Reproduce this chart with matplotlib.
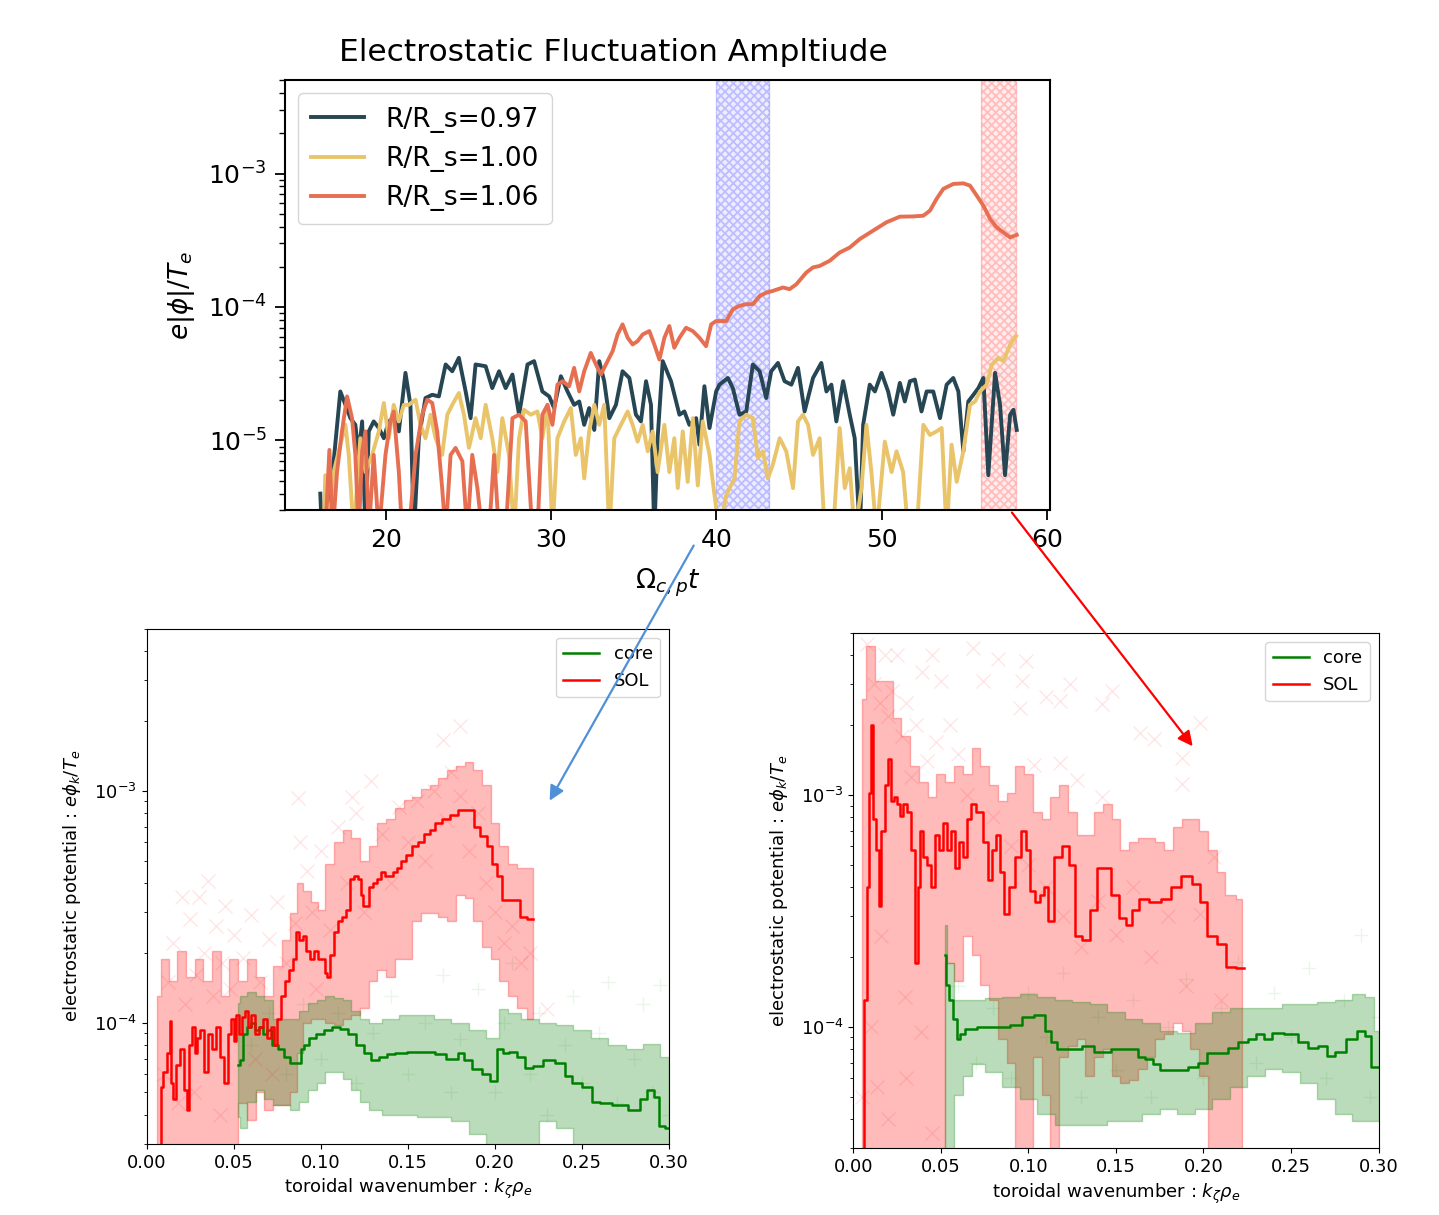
import numpy as np
import matplotlib.pyplot as plt
from matplotlib.patches import FancyArrowPatch

# ---- top panel: fluctuation amplitude vs time (amplitude in units of 1e-5)
t_097 = [16.04, 16.14, 16.75, 17.25, 17.56, 17.86, 18.16, 18.36, 18.57, 18.77, 18.97, 19.27, 19.58,
         19.88, 20.18, 20.48, 20.79, 21.19, 21.49, 21.70, 22.0, 22.40, 22.81, 23.21, 23.62, 24.02,
         24.42, 24.83, 25.13, 25.43, 26.04, 26.44, 26.85, 27.25, 27.66, 28.06, 28.57, 28.97, 29.47,
         29.88, 30.18, 30.59, 30.99, 31.39, 31.70, 32.0, 32.30, 32.61, 32.91, 33.21, 33.52, 33.92,
         34.32, 34.73, 35.13, 35.43, 35.74, 36.04, 36.24, 36.44, 36.75, 37.25, 37.76, 38.06, 38.36,
         38.77, 38.97, 39.27, 39.58, 39.98, 40.18, 40.69, 40.99, 41.39, 41.80, 42.20, 42.61, 43.01,
         43.31, 43.72, 44.12, 44.53, 44.93, 45.33, 45.84, 46.34, 46.65, 46.95, 47.25, 47.66, 48.06,
         48.36, 48.67, 48.87, 49.27, 49.58, 49.98, 50.38, 50.69, 51.09, 51.39, 51.70, 52.0, 52.40,
         52.71, 53.11, 53.52, 53.92, 54.32, 54.63, 54.93, 55.23, 55.54, 55.84, 56.14, 56.44, 56.85,
         57.15, 57.45, 57.76, 57.96, 58.16]
amp_097 = [0.40, 0.2, 0.52, 2.33, 1.85, 1.47, 1.31, 0.78, 1.39, 0.2, 1.17, 1.39, 1.24,
           1.04, 1.39, 1.47, 1.17, 3.21, 1.85, 0.2, 1.04, 2.08, 2.20, 2.14, 3.71, 3.30,
           4.16, 2.33, 1.47, 3.71, 3.60, 2.47, 3.30, 2.47, 3.12, 1.56, 3.71, 3.93, 2.33,
           2.14, 1.75, 3.03, 2.33, 1.85, 1.96, 1.31, 1.75, 1.20, 3.93, 2.78, 1.47, 1.85,
           3.30, 2.94, 1.56, 1.39, 2.78, 1.85, 0.2, 1.04, 3.93, 2.78, 1.56, 1.65, 1.31,
           1.47, 0.93, 2.55, 1.24, 2.33, 2.62, 2.94, 2.47, 1.56, 1.65, 3.71, 3.30, 2.08,
           3.30, 3.81, 2.78, 2.62, 3.50, 1.65, 2.94, 3.81, 2.33, 2.62, 1.39, 2.78, 1.56,
           1.04, 0.2, 1.31, 2.62, 2.33, 3.21, 2.33, 1.56, 2.70, 1.96, 2.78, 2.86, 1.65,
           2.33, 2.33, 1.47, 2.62, 2.94, 2.33, 0.83, 1.96, 2.20, 2.47, 2.94, 0.55, 3.21,
           1.85, 0.55, 1.56, 1.70, 1.20]

t_100 = [16.24, 16.34, 16.55, 16.85, 17.15, 17.56, 17.76, 18.06, 18.46, 18.77, 19.17, 19.58, 19.88,
         20.18, 20.48, 20.79, 21.09, 21.39, 21.80, 22.10, 22.40, 22.71, 23.01, 23.41, 23.72, 24.02,
         24.42, 24.73, 25.03, 25.43, 25.74, 26.04, 26.44, 26.75, 27.05, 27.45, 27.76, 28.06, 28.36,
         28.77, 29.17, 29.47, 29.78, 30.08, 30.38, 30.79, 31.19, 31.49, 31.80, 32.0, 32.30, 32.61,
         32.91, 33.21, 33.52, 33.82, 34.22, 34.63, 34.93, 35.23, 35.54, 35.84, 36.14, 36.44, 36.85,
         37.15, 37.45, 37.66, 37.96, 38.26, 38.57, 38.87, 39.17, 39.58, 39.88, 40.18, 40.59, 41.09,
         41.39, 41.80, 42.20, 42.51, 42.81, 43.11, 43.41, 43.82, 44.22, 44.63, 44.93, 45.23, 45.54,
         45.84, 46.24, 46.55, 47.05, 47.45, 47.76, 48.06, 48.36, 48.77, 49.07, 49.37, 49.68, 50.18,
         50.59, 50.89, 51.29, 51.60, 52.10, 52.51, 52.91, 53.31, 53.62, 53.92, 54.22, 54.53, 54.93,
         55.33, 55.64, 55.94, 56.34, 56.65, 57.05, 57.35, 57.76, 58.12]
amp_100 = [0.2, 0.55, 0.2, 0.58, 0.83, 1.31, 0.78, 0.2, 1.04, 0.58, 0.78, 1.17, 1.91,
           1.04, 1.85, 1.39, 1.85, 1.85, 2.02, 1.31, 1.04, 1.56, 1.04, 0.78, 1.56, 1.85,
           2.27, 1.56, 0.88, 1.47, 1.04, 1.85, 1.04, 0.58, 1.47, 0.78, 0.2, 1.04, 1.70,
           1.56, 1.65, 1.04, 1.85, 0.2, 1.04, 1.39, 1.75, 0.78, 1.04, 0.52, 1.17, 1.85,
           1.31, 1.85, 0.2, 1.04, 1.31, 1.65, 1.31, 0.98, 1.31, 0.83, 1.17, 0.58, 1.31,
           0.58, 1.04, 0.44, 1.17, 0.49, 1.47, 0.46, 1.39, 0.78, 0.39, 0.2, 0.39, 0.52,
           1.39, 1.56, 1.47, 0.74, 0.83, 0.52, 0.66, 1.04, 0.83, 0.44, 1.39, 1.56, 1.31,
           0.78, 1.04, 0.2, 0.2, 1.24, 0.44, 0.62, 0.2, 0.44, 1.31, 0.58, 0.2, 0.98,
           0.58, 0.83, 0.58, 0.2, 0.2, 1.31, 1.10, 1.17, 1.24, 0.2, 0.93, 0.49, 0.83,
           1.85, 1.96, 2.33, 2.62, 3.71, 4.16, 3.93, 5.24, 6.05]

t_106 = [16.34, 16.59, 16.79, 17.05, 17.35, 17.66, 17.96, 18.16, 18.36, 18.57, 18.77, 18.97, 19.27,
         19.58, 19.98, 20.28, 20.48, 20.79, 20.99, 21.39, 21.80, 22.20, 22.51, 22.81, 23.11, 23.41,
         23.62, 23.92, 24.22, 24.63, 24.93, 25.23, 25.54, 25.84, 26.24, 26.55, 26.85, 27.25, 27.66,
         28.06, 28.46, 28.87, 29.17, 29.47, 29.78, 30.08, 30.38, 30.69, 31.09, 31.39, 31.70, 32.0,
         32.40, 32.71, 33.01, 33.31, 33.72, 34.02, 34.32, 34.63, 34.93, 35.23, 35.54, 35.94, 36.24,
         36.55, 36.85, 37.15, 37.45, 37.76, 38.16, 38.57, 38.97, 39.37, 39.68, 39.98, 40.59, 40.99,
         41.39, 41.80, 42.20, 42.61, 43.01, 43.41, 44.02, 44.42, 44.83, 45.43, 45.84, 46.24, 46.85,
         47.45, 48.06, 48.67, 49.47, 50.28, 51.09, 51.90, 52.51, 52.91, 53.31, 53.72, 54.32, 54.93,
         55.33, 55.74, 56.14, 56.55, 56.95, 57.35, 57.76, 58.16]
amp_106 = [0.2, 0.85, 0.2, 0.58, 1.17, 2.14, 1.47, 0.78, 0.2, 0.83, 1.17, 0.2, 0.78,
           0.2, 0.78, 1.39, 1.65, 0.58, 0.2, 0.2, 0.78, 1.56, 2.02, 1.91, 1.17, 0.44,
           0.2, 0.78, 0.88, 0.70, 0.2, 0.78, 0.44, 0.2, 0.2, 0.78, 0.2, 0.2, 1.47,
           1.56, 1.39, 0.2, 0.2, 1.56, 1.85, 1.31, 2.62, 2.78, 2.55, 3.50, 2.33, 3.30,
           4.53, 3.71, 3.12, 3.71, 4.67, 6.23, 7.41, 5.88, 5.24, 5.55, 6.23, 6.60, 5.24,
           4.04, 5.88, 7.2, 4.95, 5.88, 6.99, 6.60, 5.88, 5.09, 7.41, 7.85, 7.85, 9.6,
           10.2, 10.5, 10.5, 12.1, 12.8, 13.2, 14.0, 13.6, 14.8, 18.1, 19.8, 20.3, 22.2,
           25.6, 27.9, 32.3, 37.3, 43.1, 47.5, 47.7, 48.3, 52.7, 64.5, 76.7, 83.5, 84.4,
           81.2, 68.3, 57.5, 45.6, 39.5, 36.2, 33.2, 34.7]

blue_window = (40.0, 43.2)
red_window = (56.0, 58.1)

# ---- bottom-left panel (values in units of 1e-4)
kl_sol = [0.0079, 0.0086, 0.0102, 0.0125, 0.0136, 0.0147, 0.0158, 0.0181, 0.0204, 0.0226, 0.0238,
          0.0249, 0.0272, 0.0283, 0.0294, 0.0317, 0.0340, 0.0362, 0.0385, 0.0408, 0.0430, 0.0453,
          0.0475, 0.0498, 0.0509, 0.0521, 0.0543, 0.0555, 0.0577, 0.0589, 0.0611, 0.0634, 0.0657,
          0.0679, 0.0702, 0.0724, 0.0743, 0.0758, 0.0781, 0.0804, 0.0826, 0.0849, 0.0860, 0.0883,
          0.0906, 0.0928, 0.0951, 0.0974, 0.0996, 0.1019, 0.1030, 0.1041, 0.1064, 0.1087, 0.1109,
          0.1132, 0.1155, 0.1177, 0.1200, 0.1223, 0.1234, 0.1245, 0.1268, 0.1290, 0.1313, 0.1336,
          0.1358, 0.1381, 0.1404, 0.1426, 0.1449, 0.1472, 0.1506, 0.1540, 0.1573, 0.1607, 0.1641,
          0.1675, 0.1721, 0.1766, 0.1811, 0.1868, 0.1890, 0.1936, 0.1970, 0.1992, 0.2026, 0.2049,
          0.2139, 0.2151, 0.2219]
phil_sol = [0.25, 0.53, 0.615, 0.74, 1.02, 0.55, 0.47, 0.66, 0.77, 0.51, 0.42,
            0.80, 0.96, 0.74, 0.86, 0.93, 0.615, 0.89, 0.77, 0.96, 0.71, 0.55,
            0.89, 1.04, 0.83, 1.08, 0.89, 1.06, 1.12, 0.96, 1.08, 0.89, 0.96,
            1.04, 0.86, 0.96, 0.80, 1.04, 1.30, 1.51, 1.69, 1.89, 2.46, 2.28,
            2.37, 2.04, 1.89, 2.04, 1.89, 1.89, 1.63, 1.57, 1.96, 2.46, 2.75,
            2.85, 3.07, 4.15, 4.31, 4.15, 3.57, 3.19, 3.19, 3.85, 4.0, 4.15,
            4.47, 4.31, 4.31, 4.47, 4.64, 5.0, 5.29, 5.81, 6.03, 6.51, 6.75,
            7.27, 7.55, 7.84, 8.30, 8.30, 7.0, 6.38, 5.81, 4.82, 4.31, 3.37,
            3.37, 2.85, 2.80]
kl_sol_band = [0.006, 0.010, 0.015, 0.020, 0.025, 0.030, 0.035, 0.040, 0.045, 0.050, 0.055, 0.060,
               0.065, 0.070, 0.075, 0.080, 0.085, 0.088, 0.092, 0.097, 0.100, 0.105, 0.110, 0.115,
               0.120, 0.125, 0.130, 0.135, 0.140, 0.145, 0.150, 0.155, 0.160, 0.165, 0.170, 0.175,
               0.180, 0.185, 0.190, 0.195, 0.200, 0.205, 0.210, 0.215, 0.222]
phil_sol_hi = [1.30, 1.89, 1.51, 2.04, 1.57, 1.89, 1.51, 2.04, 1.30, 1.89, 1.51, 1.89,
               1.57, 1.30, 1.76, 2.28, 2.96, 4.0, 3.70, 3.31, 3.07, 4.82, 6.03, 6.75,
               6.27, 5.0, 5.81, 7.27, 7.55, 8.45, 9.1, 9.45, 10.2, 10.6, 11.4, 12.3,
               12.8, 13.3, 12.3, 10.6, 7.27, 5.81, 4.82, 4.64, 4.64]
phil_sol_lo = [0.25, 0.25, 0.25, 0.25, 0.25, 0.25, 0.25, 0.25, 0.25, 0.25, 0.45, 0.38,
               0.50, 0.42, 0.44, 0.44, 0.50, 0.74, 1.0, 1.04, 1.04, 1.0, 0.98, 1.04,
               1.08, 1.16, 1.51, 1.69, 1.57, 1.89, 1.89, 2.75, 2.96, 2.96, 2.85, 2.75,
               3.57, 3.44, 2.75, 2.12, 1.89, 1.51, 1.30, 1.16, 1.04]
kl_core = [0.0525, 0.0543, 0.0566, 0.0589, 0.0611, 0.0634, 0.0657, 0.0679, 0.0702, 0.0736, 0.0770,
           0.0804, 0.0838, 0.0872, 0.0894, 0.0917, 0.0951, 0.0996, 0.1041, 0.1087, 0.1132, 0.1177,
           0.1223, 0.1268, 0.1313, 0.1358, 0.1404, 0.1449, 0.1540, 0.1630, 0.1675, 0.1766, 0.1811,
           0.1834, 0.1902, 0.1947, 0.1992, 0.2026, 0.2060, 0.2105, 0.2151, 0.2196, 0.2241, 0.2309,
           0.2377, 0.2422, 0.2468, 0.2536, 0.2581, 0.2626, 0.2717, 0.2807, 0.2853, 0.2898, 0.2932,
           0.2955, 0.3000]
phil_core = [0.66, 0.69, 0.89, 0.96, 1.0, 0.93, 0.96, 0.89, 0.93, 0.80, 0.77,
             0.71, 0.67, 0.67, 0.77, 0.80, 0.86, 0.89, 0.93, 0.96, 0.94, 0.89,
             0.80, 0.74, 0.69, 0.71, 0.73, 0.74, 0.75, 0.75, 0.73, 0.70, 0.74,
             0.69, 0.63, 0.60, 0.56, 0.77, 0.74, 0.75, 0.71, 0.64, 0.65, 0.69,
             0.67, 0.59, 0.55, 0.53, 0.456, 0.45, 0.44, 0.42, 0.47, 0.51, 0.48,
             0.357, 0.351]
kl_core_band = [0.0525, 0.055, 0.060, 0.065, 0.070, 0.075, 0.080, 0.085, 0.090, 0.095, 0.100, 0.105,
                0.110, 0.115, 0.120, 0.125, 0.130, 0.140, 0.150, 0.160, 0.170, 0.180, 0.190, 0.200,
                0.205, 0.210, 0.220, 0.230, 0.240, 0.250, 0.260, 0.270, 0.280, 0.290, 0.300]
phil_core_hi = [1.21, 1.30, 1.35, 1.30, 1.25, 1.04, 1.04, 1.04, 1.12, 1.21, 1.25, 1.30,
                1.28, 1.25, 1.12, 1.04, 1.0, 1.04, 1.08, 1.08, 1.04, 1.0, 0.93, 0.86,
                1.14, 1.10, 1.04, 1.0, 0.98, 0.93, 0.86, 0.80, 0.77, 0.81, 0.71]
phil_core_lo = [0.392, 0.351, 0.456, 0.51, 0.47, 0.44, 0.44, 0.42, 0.456, 0.51, 0.55, 0.615,
                0.615, 0.57, 0.51, 0.456, 0.42, 0.40, 0.40, 0.392, 0.392, 0.378, 0.33, 0.25,
                0.25, 0.25, 0.25, 0.378, 0.351, 0.25, 0.25, 0.25, 0.25, 0.25, 0.25]
kl_sol_pts = [0.012, 0.015, 0.02, 0.022, 0.025, 0.028, 0.03, 0.033, 0.035, 0.038, 0.04, 0.043,
              0.045, 0.048, 0.05, 0.055, 0.06, 0.065, 0.07, 0.075, 0.08, 0.085, 0.087, 0.088,
              0.092, 0.095, 0.1, 0.105, 0.11, 0.115, 0.118, 0.12, 0.125, 0.129, 0.135, 0.14,
              0.145, 0.15, 0.155, 0.16, 0.165, 0.17, 0.172, 0.175, 0.18, 0.18, 0.185, 0.19,
              0.195, 0.2, 0.205, 0.21, 0.215, 0.22, 0.23, 0.01, 0.018, 0.027, 0.042, 0.062,
              0.072, 0.097]
phil_sol_pts = [1.5, 2.2, 3.5, 1.2, 2.8, 1.6, 3.5, 2.0, 4.1, 1.3, 2.6, 1.8,
                3.2, 1.4, 2.4, 1.9, 2.9, 1.5, 2.3, 3.3, 1.8, 2.7, 9.3, 6.0,
                4.5, 3.0, 5.5, 2.5, 7.0, 4.0, 9.4, 8.0, 3.0, 11.0, 6.5, 4.0,
                8.5, 6.0, 9.0, 5.0, 10.0, 16.5, 7.5, 12.0, 19.0, 9.5, 5.5, 8.0,
                4.0, 3.0, 2.2, 2.6, 1.8, 2.0, 1.14, 0.6, 0.45, 0.5, 0.4, 0.7,
                0.6, 1.4]
kl_core_pts = [0.06, 0.07, 0.08, 0.09, 0.1, 0.11, 0.12, 0.13, 0.14, 0.15, 0.16, 0.17, 0.175, 0.18,
               0.19, 0.2, 0.205, 0.21, 0.22, 0.225, 0.23, 0.24, 0.245, 0.25, 0.26, 0.265, 0.27,
               0.28, 0.285, 0.29, 0.295, 0.3]
phil_core_pts = [0.8, 1.1, 0.6, 1.2, 0.7, 1.1, 0.55, 0.9, 1.3, 0.6, 1.0, 1.6, 0.5, 0.85,
                 1.4, 0.5, 1.0, 1.8, 0.6, 1.1, 0.4, 0.8, 1.3, 0.55, 0.9, 1.5, 0.45,
                 0.7, 1.2, 0.5, 1.45, 0.4]

# ---- bottom-right panel (values in units of 1e-4)
kr_sol = [0.0053, 0.0069, 0.0083, 0.0092, 0.0106, 0.0122, 0.0138, 0.0152, 0.0168, 0.0191, 0.0207,
          0.0226, 0.0244, 0.0260, 0.0276, 0.0295, 0.0318, 0.0341, 0.0359, 0.0375, 0.0391, 0.0410,
          0.0433, 0.0456, 0.0479, 0.0502, 0.0525, 0.0548, 0.0571, 0.0594, 0.0617, 0.0640, 0.0663,
          0.0686, 0.0721, 0.0755, 0.0778, 0.0801, 0.0824, 0.0847, 0.0875, 0.0905, 0.0939, 0.0974,
          0.0997, 0.1020, 0.1055, 0.1078, 0.1101, 0.1124, 0.1170, 0.1216, 0.1250, 0.1285, 0.1331,
          0.1377, 0.1411, 0.1446, 0.1492, 0.1538, 0.1573, 0.1607, 0.1653, 0.1722, 0.1791, 0.1837,
          0.1907, 0.1964, 0.1999, 0.2045, 0.2114, 0.2148, 0.2229]
phir_sol = [0.25, 1.30, 4.0, 10.2, 20.0, 7.84, 5.81, 3.31, 7.0, 11.0, 14.3,
            9.45, 9.8, 9.1, 8.14, 9.1, 8.45, 5.81, 1.89, 4.0, 7.0, 5.39,
            5.0, 4.0, 6.75, 5.81, 7.55, 5.81, 7.0, 4.82, 6.27, 5.39, 7.84,
            9.1, 8.45, 6.27, 4.31, 5.81, 6.75, 4.64, 3.07, 4.0, 5.39, 7.0,
            5.81, 3.85, 3.44, 3.70, 4.0, 2.85, 5.39, 6.03, 5.0, 2.46, 2.37,
            3.19, 4.82, 4.82, 3.70, 2.96, 2.75, 3.19, 3.57, 3.44, 3.57, 4.0,
            4.47, 4.15, 3.44, 2.46, 2.28, 1.82, 1.79]
kr_sol_band = [0.005, 0.010, 0.015, 0.020, 0.025, 0.030, 0.035, 0.040, 0.045, 0.050, 0.055, 0.060,
               0.065, 0.070, 0.075, 0.080, 0.085, 0.090, 0.095, 0.100, 0.105, 0.110, 0.115, 0.120,
               0.125, 0.130, 0.135, 0.140, 0.145, 0.150, 0.155, 0.160, 0.165, 0.170, 0.175, 0.180,
               0.185, 0.190, 0.195, 0.200, 0.205, 0.210, 0.215, 0.222]
phir_sol_hi = [26.0, 44.0, 31.0, 31.0, 21.5, 17.9, 13.3, 11.4, 9.8, 12.3, 11.4, 13.3,
               12.3, 16.0, 13.3, 11.0, 9.45, 10.2, 13.3, 12.3, 8.45, 7.84, 9.8, 11.0,
               8.45, 6.75, 6.75, 8.45, 9.1, 7.84, 5.81, 6.27, 6.51, 6.51, 6.27, 5.81,
               7.27, 7.84, 7.84, 7.0, 5.81, 4.64, 3.70, 3.57]
phir_sol_lo = [0.25, 0.25, 0.25, 0.25, 0.25, 0.25, 0.25, 0.25, 0.25, 0.25, 1.89, 1.57,
               2.46, 2.04, 1.51, 1.30, 0.89, 0.70, 0.25, 0.25, 0.74, 0.51, 0.25, 0.74,
               0.83, 0.89, 0.615, 0.74, 0.80, 0.615, 0.57, 0.59, 0.66, 0.74, 0.89, 0.93,
               1.04, 0.96, 0.80, 0.615, 0.25, 0.25, 0.25, 0.25]
kr_core = [0.0525, 0.0537, 0.0560, 0.0583, 0.0599, 0.0617, 0.0663, 0.0755, 0.0847, 0.0939, 0.0985,
           0.1078, 0.1112, 0.1147, 0.1181, 0.1262, 0.1354, 0.1400, 0.1538, 0.1607, 0.1642, 0.1688,
           0.1734, 0.1768, 0.1883, 0.1941, 0.1999, 0.2045, 0.2114, 0.2171, 0.2229, 0.2275, 0.2321,
           0.2367, 0.2413, 0.2505, 0.2574, 0.2620, 0.2689, 0.2724, 0.2781, 0.2851, 0.2897, 0.2943,
           0.2966, 0.3000]
phir_core = [2.04, 1.51, 1.30, 1.08, 0.89, 0.93, 0.98, 1.0, 1.0, 1.02, 1.10,
             1.12, 0.96, 0.86, 0.80, 0.80, 0.83, 0.78, 0.80, 0.80, 0.74, 0.73,
             0.69, 0.65, 0.65, 0.67, 0.70, 0.77, 0.77, 0.81, 0.86, 0.89, 0.93,
             0.89, 0.94, 0.93, 0.86, 0.81, 0.83, 0.75, 0.78, 0.89, 0.96, 0.91,
             0.67, 0.67]
kr_core_band = [0.0525, 0.055, 0.060, 0.065, 0.070, 0.080, 0.090, 0.100, 0.110, 0.120, 0.130, 0.140,
                0.150, 0.160, 0.170, 0.180, 0.190, 0.200, 0.210, 0.220, 0.230, 0.240, 0.250, 0.260,
                0.270, 0.280, 0.290, 0.295, 0.300]
phir_core_hi = [2.75, 1.89, 1.30, 1.30, 1.30, 1.33, 1.35, 1.38, 1.35, 1.30, 1.28, 1.25,
                1.16, 1.08, 1.04, 0.96, 0.94, 1.04, 1.16, 1.21, 1.21, 1.21, 1.25, 1.25,
                1.28, 1.30, 1.38, 1.35, 0.96]
phir_core_lo = [0.25, 0.25, 0.51, 0.615, 0.69, 0.64, 0.55, 0.49, 0.42, 0.378, 0.378, 0.378,
                0.392, 0.392, 0.42, 0.44, 0.42, 0.44, 0.49, 0.55, 0.615, 0.66, 0.64, 0.57,
                0.49, 0.42, 0.392, 0.392, 0.392]
kr_sol_pts = [0.0249, 0.0686, 0.0824, 0.0985, 0.0962, 0.0951, 0.110, 0.118, 0.124, 0.142, 0.148,
              0.164, 0.172, 0.198, 0.188, 0.188, 0.050, 0.074, 0.039, 0.047, 0.103, 0.118,
              0.128, 0.142, 0.206, 0.198, 0.0387, 0.0157, 0.0134, 0.0295, 0.008, 0.012, 0.015,
              0.018, 0.02, 0.022, 0.028, 0.03, 0.033, 0.036, 0.042, 0.045, 0.055, 0.06,
              0.065, 0.08, 0.09, 0.1, 0.11, 0.12, 0.13, 0.14, 0.15, 0.16, 0.17, 0.18,
              0.19, 0.21, 0.005, 0.02, 0.03, 0.045, 0.01]
phir_sol_pts = [40.0, 43.0, 38.5, 37.8, 31.0, 23.7, 26.5, 25.5, 30.0, 24.6, 28.0,
                18.5, 17.5, 20.4, 14.5, 11.2, 31.0, 31.0, 34.0, 17.0, 13.5, 13.7,
                11.6, 9.8, 5.4, 3.07, 0.95, 2.46, 0.55, 1.35, 45.0, 30.0, 25.0,
                40.0, 22.0, 28.0, 18.0, 25.0, 12.0, 20.0, 14.0, 40.0, 20.0, 15.0,
                10.0, 8.0, 6.0, 5.0, 4.0, 3.0, 2.2, 3.5, 2.5, 4.0, 2.0, 3.0,
                1.5, 1.3, 0.5, 0.4, 0.6, 0.35, 1.0]
kr_core_pts = [0.06, 0.07, 0.08, 0.09, 0.1, 0.11, 0.12, 0.13, 0.14, 0.15, 0.16, 0.17, 0.18, 0.19,
               0.2, 0.21, 0.22, 0.23, 0.24, 0.25, 0.26, 0.27, 0.28, 0.29, 0.295, 0.3]
phir_core_pts = [1.5, 0.7, 1.2, 0.6, 1.4, 0.9, 1.7, 0.5, 1.1, 0.65, 1.3, 0.5, 1.0, 1.6,
                 0.6, 1.2, 1.9, 0.7, 1.4, 0.9, 1.8, 0.6, 1.3, 2.5, 0.5, 1.1]


fig = plt.figure(figsize=(14.39, 12.15), dpi=100)
plt.rcParams["hatch.linewidth"] = 1.3

# Top Panel
ax = fig.add_axes([0.198, 0.580, 0.532, 0.354])
ax.plot(t_097, np.array(amp_097) * 1e-5, color="#264653", lw=2.8, label="R/R_s=0.97")
ax.plot(t_100, np.array(amp_100) * 1e-5, color="#e9c46a", lw=2.8, label="R/R_s=1.00")
ax.plot(t_106, np.array(amp_106) * 1e-5, color="#e76f51", lw=2.8, label="R/R_s=1.06")
ax.axvspan(*blue_window, facecolor=(0, 0, 1, 0.07), edgecolor=(0, 0, 1, 0.2), hatch="xxxx", lw=1)
ax.axvspan(*red_window, facecolor=(1, 0, 0, 0.07), edgecolor=(1, 0, 0, 0.2), hatch="xxxx", lw=1)
ax.set_yscale("log")
ax.set_ylim(3e-6, 5e-3)
ax.set_xlim(13.9, 60.2)
ax.set_xticks([20, 30, 40, 50, 60])
ax.tick_params(labelsize=18, length=7, width=1.3, pad=6)
ax.tick_params(which="minor", length=4, width=1.0)
for s in ax.spines.values():
    s.set_linewidth(1.5)
ax.set_xlabel(r"$\Omega_{c,p}t$", fontsize=19, labelpad=10)
ax.set_ylabel(r"$e|\phi|/T_e$", fontsize=19, labelpad=8)
ax.legend(loc="upper left", fontsize=19, handlelength=2.0, borderpad=0.5)
fig.text(0.426, 0.957, "Electrostatic Fluctuation Ampltiude", fontsize=22.5, ha="center", va="center")


def spectrum_panel(rect, k_sol, sol, kb_sol, sol_hi, sol_lo, k_core, core, kb_core, core_hi, core_lo,
                   kp_sol, p_sol, kp_core, p_core):
    a = fig.add_axes(rect)
    a.plot(kp_sol, np.array(p_sol) * 1e-4, "x", color="red", ms=10, alpha=0.1)
    a.plot(kp_core, np.array(p_core) * 1e-4, "+", color="green", ms=10, alpha=0.08)
    a.fill_between(kb_sol, np.array(sol_lo) * 1e-4, np.array(sol_hi) * 1e-4, step="mid",
                   color="red", alpha=0.27, lw=1)
    a.fill_between(kb_core, np.array(core_lo) * 1e-4, np.array(core_hi) * 1e-4, step="mid",
                   color="green", alpha=0.27, lw=1)
    a.plot(k_core, np.array(core) * 1e-4, color="green", lw=1.8, drawstyle="steps-mid", label="core")
    a.plot(k_sol, np.array(sol) * 1e-4, color="red", lw=1.8, drawstyle="steps-mid", label="SOL")
    a.set_yscale("log")
    a.set_xlim(0, 0.3)
    a.set_ylim(3e-5, 5e-3)
    a.set_xticks([0.0, 0.05, 0.1, 0.15, 0.2, 0.25, 0.3])
    a.set_xticklabels(["0.00", "0.05", "0.10", "0.15", "0.20", "0.25", "0.30"])
    a.tick_params(labelsize=13)
    a.set_xlabel(r"toroidal wavenumber : $k_\zeta\rho_e$", fontsize=13)
    a.set_ylabel(r"electrostatic potential : $e\phi_k/T_e$", fontsize=13, labelpad=8)
    a.legend(loc="upper right", fontsize=13)
    return a


spectrum_panel([0.102, 0.0585, 0.363, 0.424], kl_sol, phil_sol, kl_sol_band, phil_sol_hi, phil_sol_lo,
               kl_core, phil_core, kl_core_band, phil_core_hi, phil_core_lo,
               kl_sol_pts, phil_sol_pts, kl_core_pts, phil_core_pts)
spectrum_panel([0.593, 0.0551, 0.365, 0.424], kr_sol, phir_sol, kr_sol_band, phir_sol_hi, phir_sol_lo,
               kr_core, phir_core, kr_core_band, phir_core_hi, phir_core_lo,
               kr_sol_pts, phir_sol_pts, kr_core_pts, phir_core_pts)

# arrows linking the time windows to the spectra
fig.add_artist(FancyArrowPatch((0.483, 0.553), (0.381, 0.339), transform=fig.transFigure,
                               arrowstyle="-|>", mutation_scale=22, lw=1.6, color="#4f90d8", zorder=10))
fig.add_artist(FancyArrowPatch((0.702, 0.580), (0.830, 0.384), transform=fig.transFigure,
                               arrowstyle="-|>", mutation_scale=22, lw=1.6, color="red", zorder=10))

fig.savefig("out.png", dpi=100)
